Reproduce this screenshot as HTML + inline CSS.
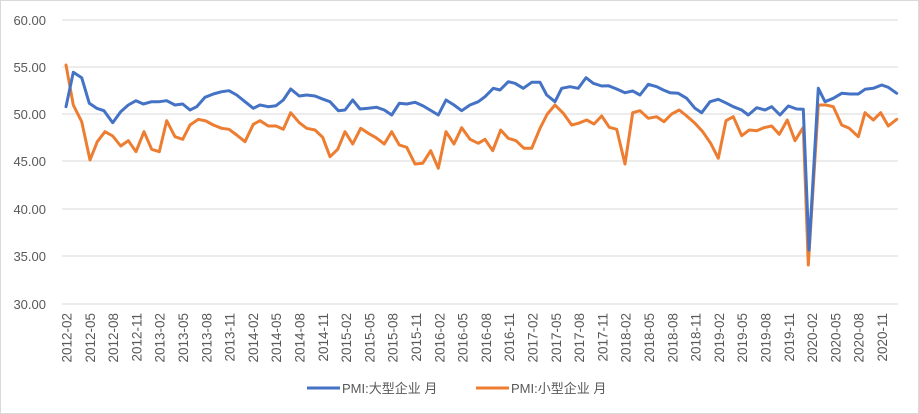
<!DOCTYPE html>
<html><head><meta charset="utf-8"><style>
body{margin:0;background:#fff}
svg{display:block}
text{font-family:"Liberation Sans","Noto Sans CJK SC",sans-serif;fill:#595959}
</style></head><body>
<svg width="919" height="414" viewBox="0 0 919 414" xmlns="http://www.w3.org/2000/svg">
<rect x="0.5" y="0.5" width="918" height="413" fill="#fff" stroke="#d9d9d9"/>
<g stroke="#d9d9d9" stroke-width="1">
<line x1="62" x2="898" y1="20" y2="20"/><line x1="62" x2="898" y1="67" y2="67"/>
<line x1="62" x2="898" y1="114" y2="114"/><line x1="62" x2="898" y1="161" y2="161"/>
<line x1="62" x2="898" y1="209" y2="209"/><line x1="62" x2="898" y1="256" y2="256"/>
<line x1="62" x2="898" y1="304" y2="304"/>
</g>
<g font-size="13" text-anchor="end">
<text x="46" y="25">60.00</text><text x="46" y="72">55.00</text><text x="46" y="119">50.00</text>
<text x="46" y="166">45.00</text><text x="46" y="214">40.00</text><text x="46" y="261">35.00</text>
<text x="46" y="309">30.00</text>
</g>
<g id="xl" font-size="13.5" text-anchor="end"></g>
<g fill="none" stroke-width="3" stroke-linejoin="round" stroke-linecap="round">
<polyline id="o1" stroke="#ED7D31"/><polyline id="b1" stroke="#4472C4"/>
</g>
<line x1="307" x2="340" y1="388" y2="388" stroke="#4472C4" stroke-width="3"/>
<text x="342" y="393" font-size="13">PMI:大型企业 月</text>
<line x1="476" x2="509" y1="388" y2="388" stroke="#ED7D31" stroke-width="3"/>
<text x="511" y="393" font-size="13">PMI:小型企业 月</text>
</svg>
<script>
function conv(a,ox){var r=[];for(var i=0;i<a.length;i+=2){r.push((ox+a[i]/3).toFixed(1)+','+(40+a[i+1]/3).toFixed(1));}return r;}
var b1=[78,200,100,97,125,113,148,190,170,205,192,212,218,248,242,215,265,195,288,182,310,192,335,185,358,185,380,182,405,195,428,192,450,210,470,200,495,172,520,162,545,155,567,152,590,165,615,185,640,205,660,195,685,200,708,197,730,180,752,147,778,168,800,165,825,168,850,178,870,185,895,212,915,210,938,180,960,207,985,205,1010,202,1033,210,1055,225,1078,190,1100,192,1125,187,1150,198,1170,210,1195,225,1218,180,1242,195,1265,212,1290,195,1315,185];
var b2=[75,170,100,145,120,150,145,125,165,130,190,145,215,127,240,127,260,165,285,185,305,145,330,140,355,145,378,113,400,130,425,138,445,137,470,147,495,158,518,153,540,165,565,133,590,140,610,150,630,158,655,160,680,175,705,205,725,218,750,185,775,178,800,190,820,200,845,210,865,225,890,203,915,210,935,200,960,225,985,198,1010,207,1030,208,1047,630,1075,145,1095,185,1120,175,1145,160,1170,162,1195,162,1215,148,1240,145,1265,135,1285,142,1310,160];
var o1=[78,75,100,195,125,245,150,360,172,305,195,275,218,288,242,318,265,302,288,335,312,275,335,328,358,335,380,242,405,290,428,298,450,255,475,238,498,243,520,255,545,265,567,268,590,285,615,305,640,253,660,242,685,258,708,258,730,268,752,218,778,248,800,265,825,270,848,292,870,350,893,328,915,275,938,312,962,265,985,280,1008,293,1033,312,1055,275,1078,315,1100,322,1125,372,1148,370,1172,332,1195,385,1218,275,1242,312,1265,263,1290,298,1315,310];
var o2=[75,298,98,332,122,270,145,295,168,302,192,325,215,325,240,265,262,222,285,195,310,220,335,255,355,250,380,240,402,252,425,228,448,262,470,268,495,372,518,218,540,212,565,235,590,230,612,245,635,222,658,210,680,228,705,250,728,275,752,310,775,355,798,242,820,230,845,287,868,270,890,272,912,263,935,258,958,283,982,240,1005,302,1030,262,1045,675,1075,195,1098,195,1120,200,1145,255,1168,265,1195,290,1215,218,1240,240,1262,218,1285,258,1310,238];
document.getElementById('b1').setAttribute('points',conv(b1,40).concat(conv(b2,460)).join(' '));
document.getElementById('o1').setAttribute('points',conv(o1,40).concat(conv(o2,460)).join(' '));
var g=document.getElementById('xl'),s='';
for(var k=0;k<36;k++){var m=2+3*k,y=2012+Math.floor((m-1)/12),mm=((m-1)%12)+1;
var x=(67+23.3*k+4.5).toFixed(1);
s+='<text transform="translate('+x+',313) rotate(-90)">'+y+'-'+(mm<10?'0':'')+mm+'</text>';}
g.innerHTML=s;
</script>
</body></html>
